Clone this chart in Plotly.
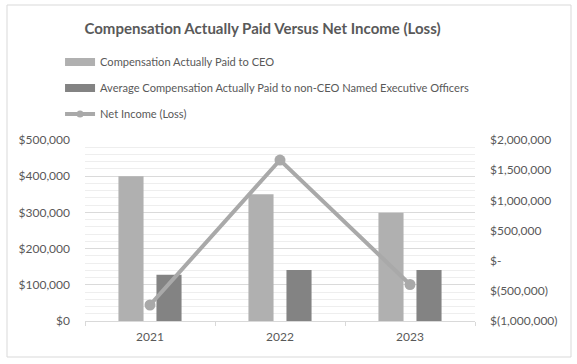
import plotly.graph_objects as go

years = ["2021", "2022", "2023"]
ceo_cap = [400000, 350000, 299000]
neo_cap = [128000, 141000, 141000]
net_income = [-735000, 1668000, -395000]

left_ticks = [0, 100000, 200000, 300000, 400000, 500000]
left_labels = ["$0", "$100,000", "$200,000", "$300,000", "$400,000", "$500,000"]
right_ticks = [-1000000, -500000, 0, 500000, 1000000, 1500000, 2000000]
right_labels = ["$(1,000,000)", "$(500,000)", "$-", "$500,000", "$1,000,000", "$1,500,000", "$2,000,000"]

name_ceo = "Compensation Actually Paid to CEO"
name_neo = "Average Compensation Actually Paid to non-CEO Named Executive Officers"
name_ni = "Net Income (Loss)"

font = "Lato, 'Open Sans', sans-serif"
txt = "#595959"
c_ceo = "#b0b0b0"
c_neo = "#838383"
c_ni = "#a9a9a9"

fig = go.Figure()
fig.add_trace(go.Bar(x=years, y=ceo_cap, name=name_ceo, showlegend=False,
                     marker=dict(color=c_ceo, line=dict(width=0))))
fig.add_trace(go.Bar(x=years, y=neo_cap, name=name_neo, showlegend=False,
                     marker=dict(color=c_neo, line=dict(width=0))))
fig.add_trace(go.Scatter(x=years, y=net_income, name=name_ni, yaxis="y2", showlegend=False,
                         mode="lines+markers", line=dict(color=c_ni, width=4),
                         marker=dict(size=11, color=c_ni)))
# legend-only entries drawn as wide swatches, like the reference
fig.add_trace(go.Scatter(x=[None], y=[None], mode="lines", name=name_ceo,
                         line=dict(color=c_ceo, width=8), legendgroup="a"))
fig.add_trace(go.Scatter(x=[None], y=[None], mode="lines", name=name_neo,
                         line=dict(color=c_neo, width=8), legendgroup="b"))
fig.add_trace(go.Scatter(x=[None], y=[None], mode="lines+markers", name=name_ni,
                         line=dict(color=c_ni, width=4), marker=dict(size=7, color=c_ni),
                         legendgroup="c"))

fig.update_layout(
    width=577, height=364,
    margin=dict(l=85, r=102, t=140, b=43),
    paper_bgcolor="white", plot_bgcolor="white",
    font=dict(family=font, size=12, color=txt),
    title=dict(text="Compensation Actually Paid Versus Net Income (Loss)",
               x=0.455, xanchor="center", y=0.92, yanchor="middle",
               font=dict(family=font, size=15, color=txt, weight="bold")),
    barmode="group", bargap=0.415, bargroupgap=0.34,
    showlegend=True,
    legend=dict(x=-0.064, y=1.511, xanchor="left", yanchor="top", orientation="v",
                tracegroupgap=7, font=dict(size=11.1, color=txt), itemwidth=30,
                bgcolor="rgba(0,0,0,0)"),
    xaxis=dict(showgrid=False, showline=True, linecolor="#d9d9d9", linewidth=1,
               ticks="outside", tickson="boundaries", ticklen=4, tickcolor="#d9d9d9",
               tickfont=dict(size=12, color=txt), ticklabelstandoff=5),
    yaxis=dict(range=[0, 500000], tickvals=left_ticks, ticktext=left_labels,
               showgrid=True, gridcolor="#dadada", gridwidth=1, zeroline=False,
               minor=dict(dtick=20000, showgrid=True, gridcolor="#eeeeee", gridwidth=1),
               tickfont=dict(size=12, color=txt), ticklabelstandoff=14),
    yaxis2=dict(range=[-1000000, 2000000], tickvals=right_ticks, ticktext=right_labels,
                overlaying="y", side="right", showgrid=False, zeroline=False,
                tickfont=dict(size=12, color=txt), ticklabelstandoff=14),
)

fig.add_shape(type="rect", xref="paper", yref="paper",
              x0=(7 - 85) / 390, x1=(571 - 85) / 390,
              y0=(321 - 357) / 181, y1=1 + (140 - 5) / 181,
              line=dict(color="#d9d9d9", width=1), fillcolor="rgba(0,0,0,0)", layer="above")

fig.write_html("out.html", config={"displayModeBar": False},
               post_script="document.body.style.margin='0';document.body.style.overflow='hidden';")
